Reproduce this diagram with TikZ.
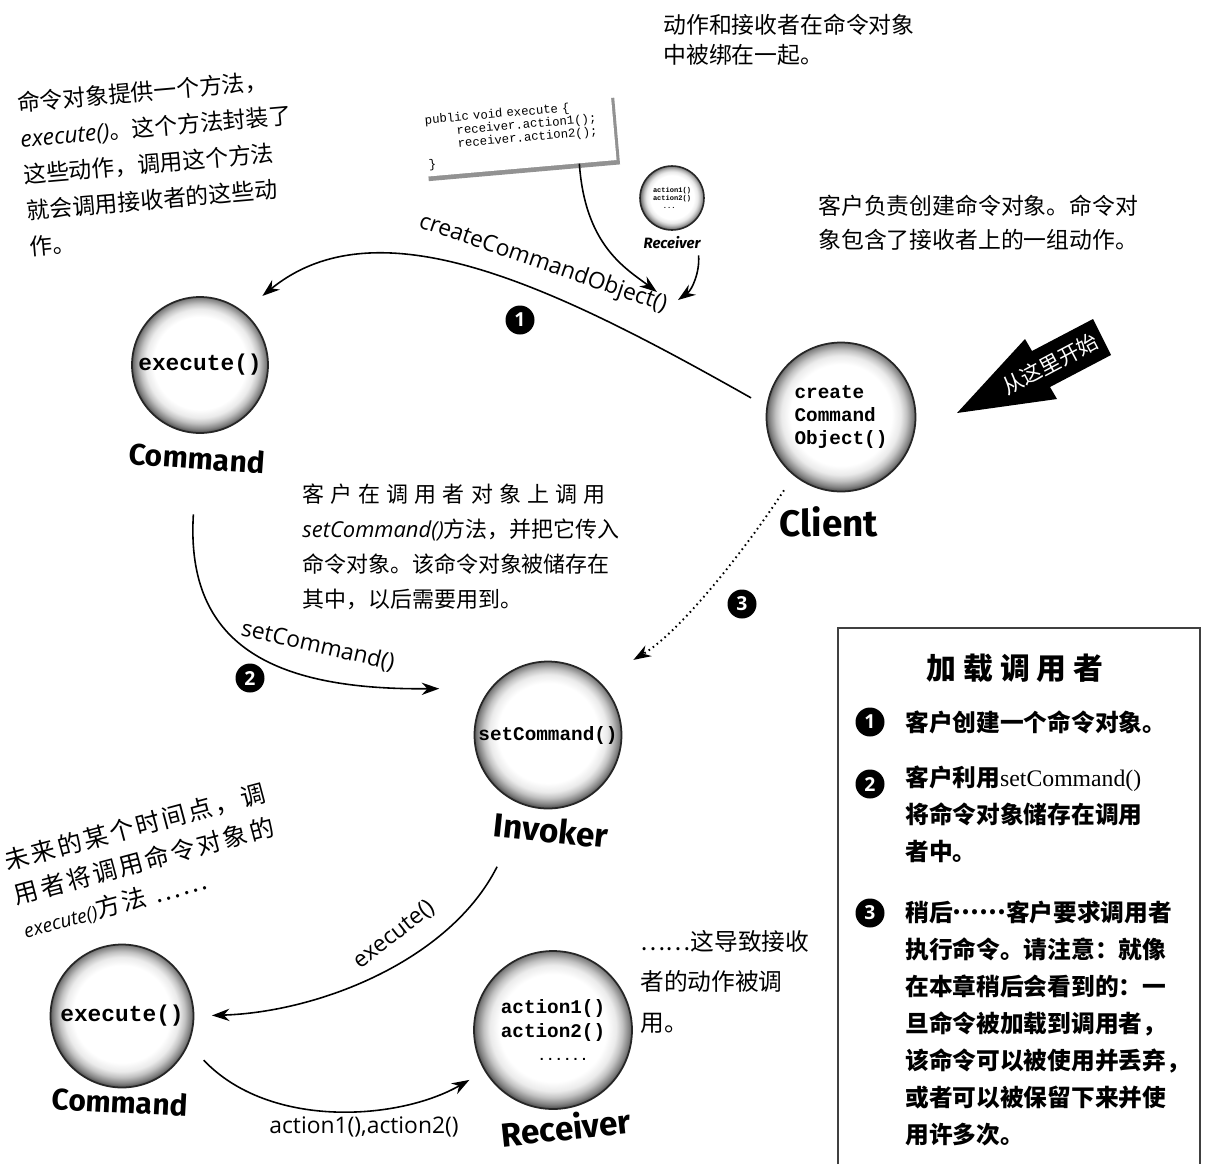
\documentclass[tikz,border=0pt]{standalone}
\usepackage{fontspec}
\setmainfont{Liberation Serif}
\setsansfont{Open Sans}
\setmonofont{Liberation Mono}
\newfontfamily\cjk{Noto Sans CJK SC}
\newfontfamily\hand{Fira Sans}
\usetikzlibrary{arrows.meta, positioning, shadows}
\newcommand{\fsz}[2]{\fontsize{#1}{#2}\selectfont}

\pgfdeclareradialshading{globe}{\pgfpoint{0bp}{1bp}}{%
  color(0bp)=(white); color(17bp)=(white); color(20bp)=(black!8);
  color(22bp)=(black!24); color(24bp)=(black!48); color(25.5bp)=(black!72);
  color(50bp)=(black!72)}

\begin{document}
\begin{tikzpicture}[x=0.02cm, y=-0.02cm,
  globeball/.style={circle, draw=black!85, line width=1pt, shade, shading=globe,
    inner sep=0pt, align=left},
  balllabel/.style={font=\hand\bfseries\fsz{19}{19}},
  calllabel/.style={font=\sffamily\fsz{13}{13}},
  flow/.style={-{Stealth[length=10pt, width=7pt]}, line width=0.9pt},
  badge/.style={circle, fill=black, text=white, inner sep=0pt,
    minimum size=0.58cm, font=\sffamily\bfseries\fsz{11}{11}},
  handnote/.style={align=left, inner sep=0pt, anchor=north west},
  boxtext/.style={align=left, inner sep=0pt, anchor=north west,
    font=\cjk\bfseries\fsz{13.5}{21}}]
  \fill[white] (0,0) rectangle (1210,1164);
  \useasboundingbox (0,0) rectangle (1210,1164);

  % Balls
  \node[globeball, minimum size=2.72cm, font=\ttfamily\bfseries\fsz{13}{15}] (cmd1) at (200,365) {execute()};
  \node[balllabel, rotate=-4, font=\hand\bfseries\fsz{17}{17}] (cmd1lbl) at (197,458) {Command};

  \node[globeball, minimum size=2.98cm, font=\ttfamily\bfseries\fsz{11}{13}] (client) at (841,417) {create\\Command\\Object()};
  \node[balllabel, font=\hand\bfseries\fsz{21}{21}] (clientlbl) at (829,522) {Client};

  \node[globeball, minimum size=2.94cm, font=\ttfamily\bfseries\fsz{11}{13}] (inv) at (548,735) {setCommand()};
  \node[balllabel, rotate=-6] (invlbl) at (551,830) {Invoker};

  \node[globeball, minimum size=2.86cm, font=\ttfamily\bfseries\fsz{13}{15}] (cmd2) at (122,1016) {execute()};
  \node[balllabel, rotate=-3, font=\hand\bfseries\fsz{17}{17}] (cmd2lbl) at (120,1102) {Command};

  \node[globeball, minimum size=3.16cm, font=\ttfamily\bfseries\fsz{11}{13.5}] (recv) at (553,1030) {action1()\\action2()\\\hspace*{21pt}{\fsz{8}{13.5}......}};
  \node[balllabel, rotate=6] (recvlbl) at (566,1127) {Receiver};

  \node[globeball, minimum size=1.28cm, line width=0.9pt, font=\ttfamily\bfseries\fsz{4}{4.6}] (recv0) at (672,198) {action1()\\action2()\\\hspace*{1.4em}...};
  \node[font=\hand\bfseries\itshape\fsz{8.5}{8.5}] (recv0lbl) at (672,243) {Receiver};

  % Code note
  \node[fill=white, rotate=5, minimum width=3.84cm, minimum height=1.34cm, text width=3.66cm,
    align=left, inner sep=2pt, font=\ttfamily\fsz{7}{7.4},
    drop shadow={shadow xshift=2pt, shadow yshift=-2.5pt, fill=black!85}] (code) at (518,135)
    {public void execute \{\\\hspace*{2.5em}receiver.action1();\\\hspace*{2.5em}receiver.action2();\\[3pt]\}};
  \coordinate (cco1) at (657,292);
  \coordinate (cco2) at (678,300);
  \draw[flow] (code.-30) .. controls (585,245) and (625,268) .. (cco1);
  \draw[flow] (recv0lbl.-25) .. controls (700,272) and (692,290) .. (cco2);

  % Step 1
  \draw[flow, shorten <=10pt, shorten >=14pt] (client.172) .. controls (560,290) and (380,200) .. (cmd1.51);
  \node[calllabel, rotate=-19] (ccolbl) at (543,264) {createCommandObject()};
  \node[badge] (b1) at (520,320) {1};

  % Step 2
  \draw[flow, shorten <=22pt, shorten >=29pt] (cmd1lbl.south) .. controls (185,650) and (280,690) .. (inv.141);
  \node[calllabel, rotate=-13] (sclbl) at (318,646) {setCommand()};
  \node[badge] (b2) at (250,678) {2};

  % Step 3
  \draw[flow, dotted, line width=1.1pt, shorten <=10pt, shorten >=23pt] (client.231) .. controls (745,550) and (680,632) .. (inv.47);
  \node[badge] (b3) at (742,604) {3};

  % Later
  \draw[flow, shorten <=14pt, shorten >=10pt] (invlbl.205) .. controls (450,960) and (320,1012) .. (cmd2.east);
  \node[calllabel, rotate=38] (exlbl) at (394,935) {execute()};
  \draw[flow, shorten <=12.5pt, shorten >=10pt] (cmd2.-23) .. controls (270,1130) and (400,1120) .. (recv.211);
  \node[calllabel] (aclbl) at (364,1127) {action1(),action2()};

  % Notes
  \node[handnote, rotate=5, font=\cjk\fsz{13}{20.5}] (noteexe) at (16,92)
    {命令对象提供一个方法，\\{\sffamily\itshape execute()}。这个方法封装了\\这些动作，调用这个方法\\就会调用接收者的这些动\\作。};
  \node[handnote, font=\cjk\fsz{13}{17}] (notebind) at (663,14) {动作和接收者在命令对象\\中被绑在一起。};
  \node[handnote, font=\cjk\fsz{13}{19}] (noteclient) at (818,195) {客户负责创建命令对象。命令对\\象包含了接收者上的一组动作。};
  \node[handnote, font=\cjk\fsz{12.5}{20}] (noteset) at (302,483)
    {{\addfontfeature{LetterSpace=28}客户在调用者对象上调用}\\{\sffamily\itshape setCommand()}方法，并把它传入\\命令对象。该命令对象被储存在\\其中，以后需要用到。};
  \node[handnote, rotate=15, font=\cjk\fsz{14}{20}\addfontfeature{LetterSpace=10}] (notelater) at (2,850)
    {未来的某个时间点，调\\用者将调用命令对象的\\{\sffamily\itshape\fsz{11}{20}execute()}方法 ……};
  \node[handnote, font=\cjk\fsz{13.5}{23}] (noteaction) at (640,930) {……这导致接收\\者的动作被调\\用。};

  % Start here
  \fill (957,413) -- (1025,339) -- (1032,351) -- (1093,319) -- (1111,355) -- (1050,387) -- (1057,399) -- cycle;
  \node[rotate=28, text=white, inner sep=0pt, font=\cjk\fsz{12}{12}] (start) at (1050,364) {从这里开始};

  % Summary box
  \draw[black!75, line width=1pt] (838,1164) -- (838,628) -- (1200,628) -- (1200,1164);
  \node[font=\cjk\bfseries\fsz{17}{17}] (boxtitle) at (1015,668) {加\hspace{4pt}载\hspace{4pt}调\hspace{4pt}用\hspace{4pt}者};
  \node[badge] (s1) at (870,722) {1};
  \node[badge] (s2) at (870,784) {2};
  \node[badge] (s3) at (870,913) {3};
  \node[boxtext] (t1) at (905,710) {客户创建一个命令对象。};
  \node[boxtext] (t2) at (905,766) {客户利用{\rmfamily\mdseries setCommand()}\\将命令对象储存在调用\\者中。};
  \node[boxtext] (t3) at (905,901) {稍后\raisebox{4pt}{……}客户要求调用者\\执行命令。请注意：就像\\在本章稍后会看到的：一\\旦命令被加载到调用者，\\该命令可以被使用并丢弃，\\或者可以被保留下来并使\\用许多次。};
\end{tikzpicture}
\end{document}
